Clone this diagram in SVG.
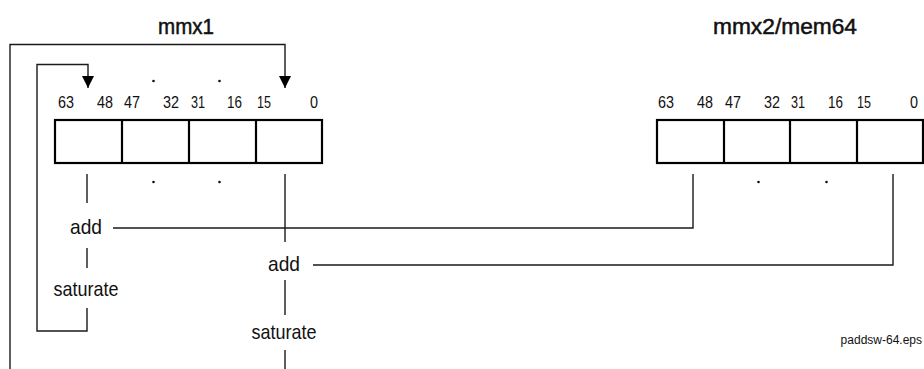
<svg xmlns="http://www.w3.org/2000/svg" width="924" height="369" viewBox="0 0 924 369">
<defs>
<style>
text{font-family:"Liberation Sans",Arial,sans-serif;fill:#111}
.title{font-size:22px;text-anchor:middle;stroke:#111;stroke-width:0.5}
.bit{font-size:17px}
.op{font-size:21px;text-anchor:middle}
.note{font-size:12px;text-anchor:end}
.box{fill:#fff;stroke:#000;stroke-width:2.2}
.ln{fill:none;stroke:#1a1a1a;stroke-width:1.4}
.dot{fill:#111}
</style>
<marker id="arr" markerUnits="userSpaceOnUse" markerWidth="14" markerHeight="12" refX="12" refY="6" orient="auto">
<path d="M0,0 L12,6 L0,12 Z" fill="#000"/>
</marker>
</defs>
<rect width="924" height="369" fill="#fff"/>

<g id="mmx1">
<text class="title" x="186" y="34" textLength="56" lengthAdjust="spacingAndGlyphs">mmx1</text>
<rect class="box" x="55" y="120" width="267" height="43"/>
<line class="box" x1="122" y1="120" x2="122" y2="163"/>
<line class="box" x1="189" y1="120" x2="189" y2="163"/>
<line class="box" x1="256" y1="120" x2="256" y2="163"/>
<text class="bit" x="58" y="108" textLength="16" lengthAdjust="spacingAndGlyphs">63</text>
<text class="bit" x="97" y="108" textLength="16" lengthAdjust="spacingAndGlyphs">48</text>
<text class="bit" x="124" y="108" textLength="16" lengthAdjust="spacingAndGlyphs">47</text>
<text class="bit" x="163" y="108" textLength="16" lengthAdjust="spacingAndGlyphs">32</text>
<text class="bit" x="191" y="108" textLength="14" lengthAdjust="spacingAndGlyphs">31</text>
<text class="bit" x="227" y="108" textLength="15" lengthAdjust="spacingAndGlyphs">16</text>
<text class="bit" x="257" y="108" textLength="14" lengthAdjust="spacingAndGlyphs">15</text>
<text class="bit" x="310" y="108" textLength="8" lengthAdjust="spacingAndGlyphs">0</text>
<circle class="dot" cx="153.5" cy="81" r="1.3"/>
<circle class="dot" cx="219.5" cy="81" r="1.3"/>
<circle class="dot" cx="153.5" cy="182" r="1.3"/>
<circle class="dot" cx="219.5" cy="182" r="1.3"/>
</g>

<g id="mmx2">
<text class="title" x="785" y="34" textLength="144" lengthAdjust="spacingAndGlyphs">mmx2/mem64</text>
<rect class="box" x="657" y="120" width="266" height="43"/>
<line class="box" x1="724" y1="120" x2="724" y2="163"/>
<line class="box" x1="790" y1="120" x2="790" y2="163"/>
<line class="box" x1="857" y1="120" x2="857" y2="163"/>
<text class="bit" x="658" y="108" textLength="16" lengthAdjust="spacingAndGlyphs">63</text>
<text class="bit" x="697" y="108" textLength="16" lengthAdjust="spacingAndGlyphs">48</text>
<text class="bit" x="725" y="108" textLength="16" lengthAdjust="spacingAndGlyphs">47</text>
<text class="bit" x="764" y="108" textLength="16" lengthAdjust="spacingAndGlyphs">32</text>
<text class="bit" x="791" y="108" textLength="14" lengthAdjust="spacingAndGlyphs">31</text>
<text class="bit" x="828" y="108" textLength="15" lengthAdjust="spacingAndGlyphs">16</text>
<text class="bit" x="857" y="108" textLength="14" lengthAdjust="spacingAndGlyphs">15</text>
<text class="bit" x="910" y="108" textLength="8" lengthAdjust="spacingAndGlyphs">0</text>
<circle class="dot" cx="758.5" cy="182" r="1.3"/>
<circle class="dot" cx="826.5" cy="182" r="1.3"/>
</g>

<g id="op-high">
<text class="op" x="86" y="234" textLength="32" lengthAdjust="spacingAndGlyphs">add</text>
<text class="op" x="86" y="296" textLength="65" lengthAdjust="spacingAndGlyphs">saturate</text>
</g>
<g id="op-low">
<text class="op" x="284" y="271" textLength="32" lengthAdjust="spacingAndGlyphs">add</text>
<text class="op" x="284" y="339" textLength="65" lengthAdjust="spacingAndGlyphs">saturate</text>
</g>

<g id="connectors">
<path class="ln" d="M10,369 V44.5 H285 V88" marker-end="url(#arr)"/>
<path class="ln" d="M87,308 V331 H37 V64.5 H88 V88" marker-end="url(#arr)"/>
<line class="ln" x1="87" y1="174" x2="87" y2="203"/>
<line class="ln" x1="87" y1="248" x2="87" y2="268"/>
<path class="ln" d="M113,228 H693 V174"/>
<line class="ln" x1="285" y1="174" x2="285" y2="242"/>
<line class="ln" x1="285" y1="280" x2="285" y2="315"/>
<line class="ln" x1="285" y1="350" x2="285" y2="369"/>
<path class="ln" d="M313,265 H893 V174"/>
</g>

<text class="note" x="922" y="344">paddsw-64.eps</text>
</svg>
